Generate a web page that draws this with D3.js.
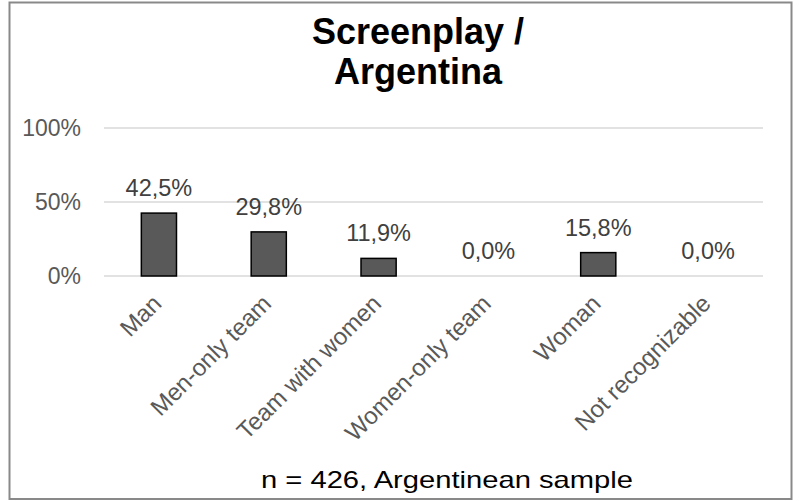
<!DOCTYPE html>
<html>
<head>
<meta charset="utf-8">
<script src="https://cdn.jsdelivr.net/npm/d3@7"></script>
<style>
  html, body { margin: 0; padding: 0; background: #fff; }
  svg { display: block; font-family: "Liberation Sans", Arial, sans-serif; }
</style>
</head>
<body>
<svg id="chart" width="799" height="501"></svg>
<script>
const categories = ["Man", "Men-only team", "Team with women", "Women-only team", "Woman", "Not recognizable"];
const values = [0.425, 0.298, 0.119, 0.0, 0.158, 0.0];
const valueLabels = ["42,5%", "29,8%", "11,9%", "0,0%", "15,8%", "0,0%"];
const yTicks = [0, 0.5, 1];
const yTickLabels = ["0%", "50%", "100%"];
const titleLines = ["Screenplay /", "Argentina"];
const caption = "n = 426, Argentinean sample";

const svg = d3.select("#chart");

// outer border
svg.append("rect")
  .attr("x", 9.5).attr("y", 2.5)
  .attr("width", 782).attr("height", 496.5)
  .attr("fill", "#fff")
  .attr("stroke", "#898989")
  .attr("stroke-width", 2);

const x = d3.scaleBand()
  .domain(categories)
  .range([104, 763])
  .paddingInner(0.68)
  .paddingOuter(0.34);

const y = d3.scaleLinear().domain([0, 1]).range([276, 128]);

// gridlines
svg.append("g")
  .selectAll("line")
  .data(yTicks)
  .join("line")
  .attr("x1", 104).attr("x2", 763)
  .attr("y1", d => y(d)).attr("y2", d => y(d))
  .attr("stroke", "#d9d9d9")
  .attr("stroke-width", 1.5);

// y axis labels
const yAxis = d3.axisLeft(y).tickValues(yTicks).tickSize(0).tickPadding(0)
  .tickFormat((d, i) => yTickLabels[i]);
const gy = svg.append("g").attr("transform", "translate(81,0)").call(yAxis);
gy.select(".domain").remove();
gy.selectAll("text")
  .attr("font-size", "23px")
  .attr("font-family", "'Liberation Sans', Arial, sans-serif")
  .attr("fill", "#595959")
  .attr("dy", "0.34em");

// bars
svg.append("g")
  .selectAll("rect")
  .data(values)
  .join("rect")
  .attr("x", (d, i) => x(categories[i]))
  .attr("width", x.bandwidth())
  .attr("y", d => y(d))
  .attr("height", d => y(0) - y(d))
  .attr("fill", "#595959")
  .attr("stroke", d => d > 0 ? "#000" : "none")
  .attr("stroke-width", 1.5);

// data labels
svg.append("g")
  .selectAll("text")
  .data(values)
  .join("text")
  .attr("x", (d, i) => x(categories[i]) + x.bandwidth() / 2)
  .attr("y", d => y(d) - 17)
  .attr("text-anchor", "middle")
  .attr("font-size", "23.5px")
  .attr("fill", "#404040")
  .text((d, i) => valueLabels[i]);

// x axis labels rotated
const xAxis = d3.axisBottom(x).tickSize(0).tickPadding(0);
const gx = svg.append("g").attr("transform", "translate(0,276)").call(xAxis);
gx.select(".domain").remove();
gx.selectAll(".tick text")
  .attr("font-size", "24px")
  .attr("font-family", "'Liberation Sans', Arial, sans-serif")
  .attr("fill", "#595959")
  .attr("text-anchor", "end")
  .attr("dy", null)
  .attr("y", null)
  .attr("transform", "translate(4,29) rotate(-45)");

// title
svg.append("text")
  .attr("x", 418)
  .attr("text-anchor", "middle")
  .attr("font-size", "36px")
  .attr("font-weight", "bold")
  .attr("fill", "#000")
  .selectAll("tspan")
  .data(titleLines)
  .join("tspan")
  .attr("x", 418)
  .attr("y", (d, i) => 44 + i * 40)
  .text(d => d);

// caption
svg.append("text")
  .attr("x", 447)
  .attr("y", 488)
  .attr("text-anchor", "middle")
  .attr("font-size", "24px")
  .attr("fill", "#000")
  .attr("textLength", 372)
  .attr("lengthAdjust", "spacingAndGlyphs")
  .text(caption);
</script>
</body>
</html>
